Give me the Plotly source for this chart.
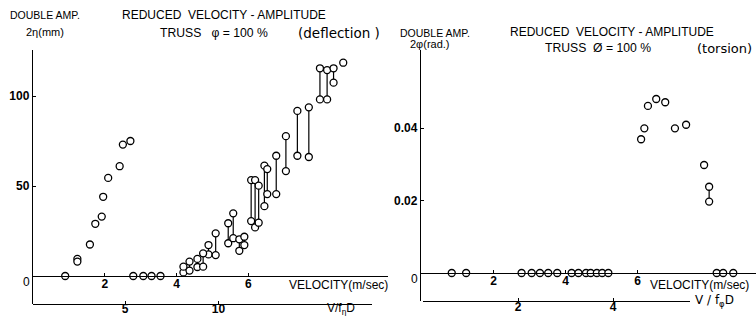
import plotly.graph_objects as go

W, H = 756, 316

# ---------------- data ----------------
# Deflection panel: velocity (m/sec) vs double amplitude 2η (mm)
defl_zero_v = [0.89, 2.79, 3.07, 3.30, 3.55]
defl_single_v = [1.23, 1.23, 1.58, 1.73, 1.91, 1.95, 2.09, 2.41, 2.50, 2.71, 8.65]
defl_single_a = [9.5, 8.0, 17.5, 29.0, 33.0, 44.0, 54.5, 61.0, 73.0, 75.0, 118.5]
defl_pair_v = [4.19, 4.36, 4.58, 4.74, 4.89, 5.09, 5.44, 5.58, 5.75, 5.89, 6.08,
               6.19, 6.29, 6.45, 6.53, 6.78, 7.05, 7.37, 7.69, 8.00, 8.20, 8.38]
defl_pair_lo = [2.0, 3.0, 5.0, 5.2, 12.0, 11.6, 18.2, 21.0, 14.0, 17.2, 30.5,
                27.0, 29.6, 38.8, 45.5, 45.5, 58.3, 66.8, 66.1, 98.1, 98.1, 107.4]
defl_pair_hi = [5.2, 8.0, 9.5, 12.6, 17.2, 23.7, 29.3, 34.8, 20.4, 21.8, 53.3,
                53.3, 50.2, 61.3, 59.4, 66.8, 77.7, 91.7, 93.7, 115.4, 114.4, 115.4]
defl_y_ticks = [50, 100]
vel_ticks = [2, 4, 6]
reduced_defl_ticks = [5, 10]

# Torsion panel: velocity (m/sec) vs double amplitude 2φ (rad.)
tors_zero_v = [0.84, 1.24, 2.78, 3.06, 3.29, 3.52, 3.77, 4.17, 4.36, 4.57, 4.70,
               4.87, 5.02, 5.19, 8.20, 8.38, 8.66]
tors_v = [6.10, 6.19, 6.29, 6.52, 6.77, 7.04, 7.35, 7.85]
tors_a = [0.0369, 0.0399, 0.0461, 0.0480, 0.0471, 0.0399, 0.0409, 0.0298]
tors_pair_v = [7.99]
tors_pair_lo = [0.0197]
tors_pair_hi = [0.0238]
tors_y_ticks = [0.02, 0.04]
reduced_tors_ticks = [2, 4]

# ---------------- helpers (pixel -> paper fraction) ----------------
def px(x):
    return x / W

def py(y):
    return 1 - y / H

def segs(v, lo, hi):
    xs, ys = [], []
    for a, b, c in zip(v, lo, hi):
        xs += [a, a, None]
        ys += [b, c, None]
    return xs, ys

FONT = "Liberation Sans"
FONT2 = "DejaVu Sans"
marker = dict(symbol="circle", size=7, color="white", line=dict(color="black", width=1.3))

fig = go.Figure()

# ---- deflection panel ----
sx, sy = segs(defl_pair_v, defl_pair_lo, defl_pair_hi)
fig.add_trace(go.Scatter(x=sx, y=sy, mode="lines", line=dict(color="black", width=1.2),
                         xaxis="x", yaxis="y", showlegend=False, hoverinfo="skip"))
fig.add_trace(go.Scatter(x=defl_pair_v + defl_pair_v, y=defl_pair_lo + defl_pair_hi,
                         mode="markers", marker=marker, xaxis="x", yaxis="y", showlegend=False))
fig.add_trace(go.Scatter(x=defl_single_v, y=defl_single_a, mode="markers", marker=marker,
                         xaxis="x", yaxis="y", showlegend=False))
fig.add_trace(go.Scatter(x=defl_zero_v, y=[0] * len(defl_zero_v), mode="markers", marker=marker,
                         xaxis="x", yaxis="y", showlegend=False))
fig.add_trace(go.Scatter(x=[None], y=[None], xaxis="x2", yaxis="y", showlegend=False))

# ---- torsion panel ----
tx, ty = segs(tors_pair_v, tors_pair_lo, tors_pair_hi)
fig.add_trace(go.Scatter(x=tx, y=ty, mode="lines", line=dict(color="black", width=1.2),
                         xaxis="x3", yaxis="y3", showlegend=False, hoverinfo="skip"))
fig.add_trace(go.Scatter(x=tors_v + tors_pair_v + tors_pair_v,
                         y=tors_a + tors_pair_lo + tors_pair_hi,
                         mode="markers", marker=marker, xaxis="x3", yaxis="y3", showlegend=False))
fig.add_trace(go.Scatter(x=tors_zero_v, y=[0] * len(tors_zero_v), mode="markers", marker=marker,
                         xaxis="x3", yaxis="y3", showlegend=False))
fig.add_trace(go.Scatter(x=[None], y=[None], xaxis="x4", yaxis="y3", showlegend=False))

tickfont = dict(family=FONT, size=12, color="black", weight="bold")
common = dict(showgrid=False, zeroline=False, showline=True, linecolor="black", linewidth=1.2,
              ticks="inside", ticklen=3, tickcolor="black", tickfont=tickfont, fixedrange=True)
vcommon = dict(common, ticklabelstandoff=-4)
lcommon = dict(common, ticklabelstandoff=-6)

# left: velocity pixel = 33.3 + 35.83 v ; amplitude zero at y=276, 1.8 px/mm
# right: velocity pixel = 421.5 + 36 v ; amplitude zero at y=273, 3625 px/rad
fig.update_layout(
    xaxis=dict(domain=[px(33), px(388)], range=[(33 - 33.3) / 35.83, (388 - 33.3) / 35.83],
               anchor="free", position=py(276), tickvals=vel_ticks, **vcommon),
    xaxis2=dict(domain=[px(33), px(372)], range=[(33 - 31.7) / 18.67, (372 - 31.7) / 18.67],
                anchor="free", position=py(303.5), tickvals=reduced_defl_ticks, **lcommon),
    yaxis=dict(domain=[py(303.5), py(50)], range=[-(303.5 - 276) / 1.8, (276 - 50) / 1.8],
               anchor="x", tickvals=defl_y_ticks, **common),
    xaxis3=dict(domain=[px(421), 1.0], range=[(421 - 421.5) / 36.0, (756 - 421.5) / 36.0],
                anchor="free", position=py(273), tickvals=vel_ticks, **vcommon),
    xaxis4=dict(domain=[px(423), px(690)], range=[0, (690 - 423) / 47.5],
                anchor="free", position=py(301), tickvals=reduced_tors_ticks, **lcommon),
    yaxis3=dict(domain=[py(301), py(50)], range=[-(301 - 273) / 3625, (273 - 50) / 3625],
                anchor="x3", tickvals=tors_y_ticks, tickformat=".2f", **common),
)

texts = [
    ("DOUBLE AMP.", 8, 15, 10.5, FONT),
    ("2η(mm)", 24, 32, 11, FONT),
    ("REDUCED  VELOCITY - AMPLITUDE", 120, 15, 12, FONT),
    ("TRUSS   φ = 100 %", 158, 33, 12.2, FONT),
    ("(deflection )", 296, 33, 13.5, FONT2),
    ("VELOCITY(m/sec)", 287, 285, 12, FONT),
    ("V/f<sub>η</sub>D", 325, 309, 12, FONT),
    ("0", 21, 282, 12, FONT),
    ("DOUBLE AMP.", 398, 33, 10.5, FONT),
    ("2φ(rad.)", 408, 44, 11, FONT),
    ("REDUCED  VELOCITY - AMPLITUDE", 508, 32, 12, FONT),
    ("TRUSS  Ø = 100 %", 543, 48, 12.2, FONT),
    ("(torsion)", 695, 48, 13, FONT2),
    ("VELOCITY(m/sec)", 648, 285, 12, FONT),
    ("V / f<sub>φ</sub>D", 693, 301, 12, FONT2),
    ("0", 409, 279, 12, FONT),
]
anns = []
for t, x, y, s, f in texts:
    anns.append(dict(text=t, x=px(x), y=py(y), xref="paper", yref="paper",
                     xanchor="left", yanchor="middle", showarrow=False,
                     font=dict(family=f, size=s, color="black")))

fig.update_layout(
    width=W, height=H, margin=dict(l=0, r=0, t=0, b=0),
    paper_bgcolor="white", plot_bgcolor="rgba(0,0,0,0)",
    annotations=anns, showlegend=False,
)

# place the figure flush with the page corner (no default body margin)
fig.write_html("out.html", config={"displayModeBar": False, "staticPlot": True},
               post_script="document.body.style.margin='0';")
